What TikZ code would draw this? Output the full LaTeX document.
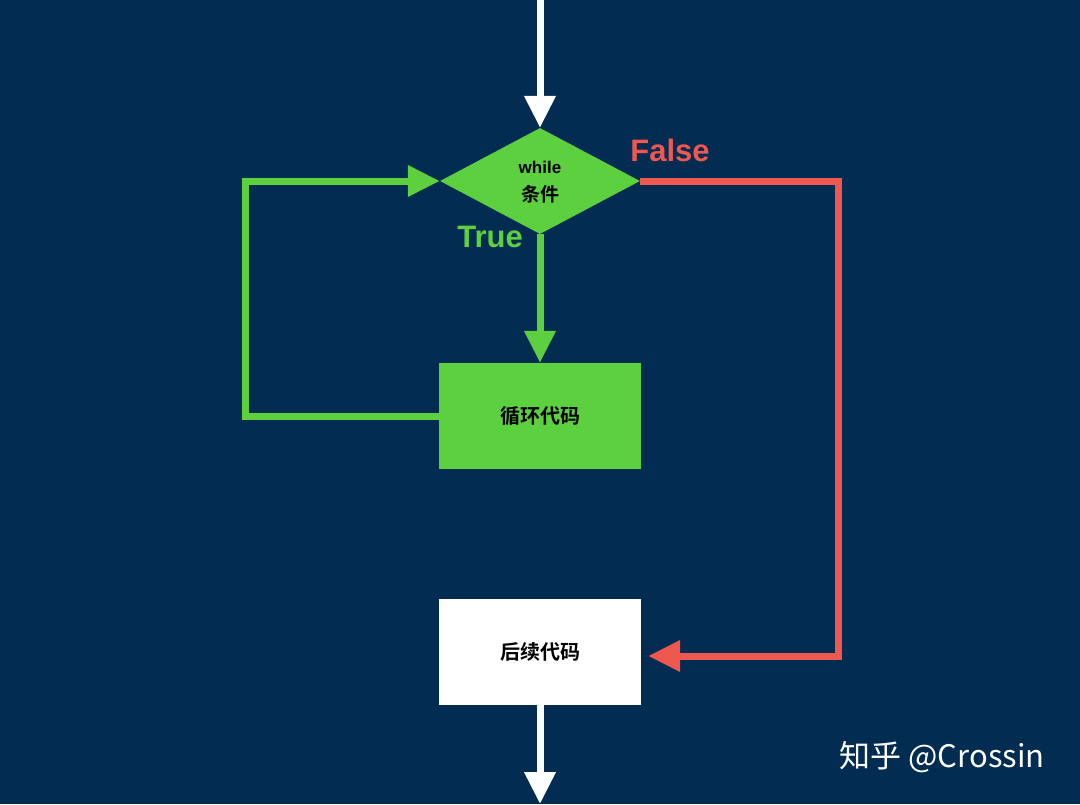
\documentclass[tikz,border=0pt]{standalone}
\usepackage{fontspec}
\setmainfont{Liberation Sans}
\newfontfamily\cjk{Noto Sans CJK SC}
\newfontfamily\cjkb{Noto Sans CJK SC Bold}
\usetikzlibrary{shapes.geometric,arrows.meta}
\definecolor{bg}{RGB}{2,44,82}
\definecolor{gr}{RGB}{92,208,62}
\definecolor{rd}{RGB}{238,88,80}
\begin{document}
\begin{tikzpicture}[x=1pt,y=-1pt,
  ln/.style={line width=7pt,-{Triangle[length=32pt,width=30pt]}},
  boxst/.style={minimum width=202pt,minimum height=106pt,inner sep=0pt,font=\cjkb\fontsize{20}{24}\selectfont}]
\fill[bg] (0,0) rectangle (1080,804);
\useasboundingbox (0,0) rectangle (1080,804);
\coordinate (top) at (540,0);
\coordinate (bot) at (540,804);
\node[diamond,fill=gr,minimum width=200pt,minimum height=106pt,inner sep=0pt,aspect=1.9] (d) at (540,181) {};
\node[font=\bfseries\fontsize{17}{20}\selectfont,inner sep=0pt] (dw) at (540,167) {while};
\node[font=\cjkb\fontsize{19}{22}\selectfont,inner sep=0pt] (dc) at (540,194) {条件};
\node[boxst,fill=gr] (loop) at (540,416) {循环代码};
\node[boxst,fill=white] (next) at (540,652) {后续代码};
\node[text=rd,font=\bfseries\fontsize{31}{34}\selectfont] (f) at (670,150) {False};
\node[text=gr,font=\bfseries\fontsize{31}{34}\selectfont] (t) at (490,237) {True};
\node[text=white,font=\cjk\fontsize{31}{36}\selectfont,anchor=center] (wm) at (942,757) {知乎 @Crossin};
\draw[ln,white] (top) -- (d.north);
\draw[ln,gr] (d.south) -- (loop.north);
\draw[ln,gr] (loop.west) -- (245,416) -- (245,181) -- (d.west);
\draw[ln,rd] (d.east) -- (838,181) -- (838,656) -- ([xshift=7pt]next.east|-0,656);
\draw[ln,white] (next.south) -- (bot);
\end{tikzpicture}
\end{document}
